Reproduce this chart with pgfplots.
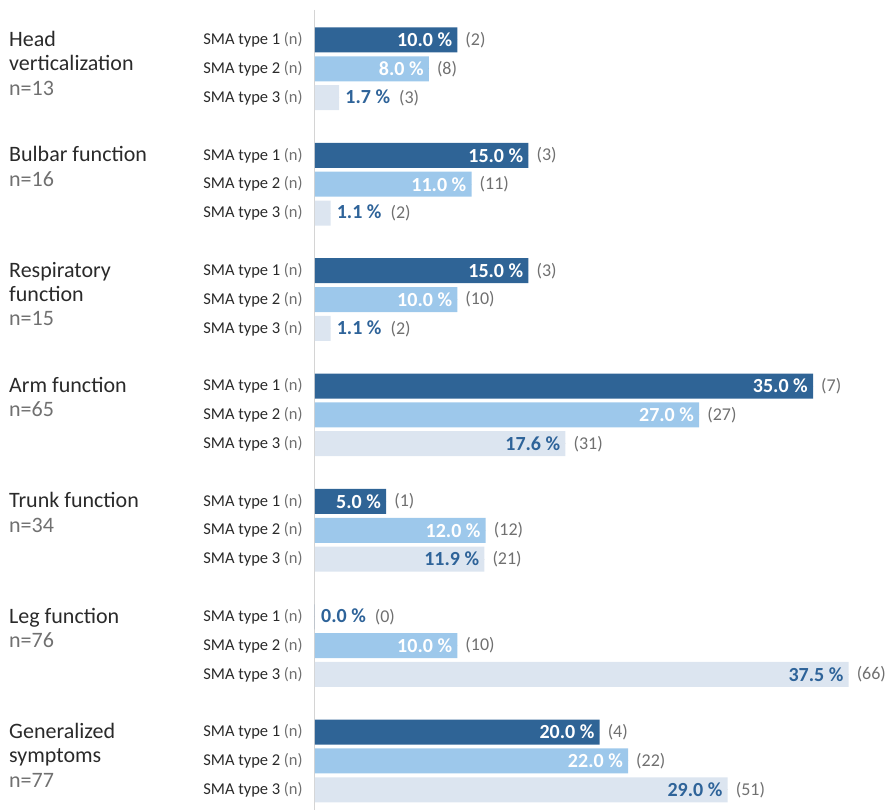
\documentclass[border=0pt]{standalone}
\usepackage{fontspec}
\setmainfont{Carlito}
\usepackage{pgfplots}
\pgfplotsset{compat=1.18}
\usepackage{pgfplotstable}
\definecolor{dblue}{HTML}{2F6496}
\definecolor{lblue}{HTML}{9DC8EB}
\definecolor{pblue}{HTML}{DCE5F0}
\definecolor{tblue}{HTML}{2E6399}
\definecolor{cgray}{HTML}{707070}
\definecolor{txt}{HTML}{2A2A2A}
\definecolor{axgray}{HTML}{D4D4D4}

\pgfplotstableread{
x y v n
10 0 10.0 2
15 4 15.0 3
15 8 15.0 3
35 12 35.0 7
5 16 5.0 1
0 20 0.0 0
20 24 20.0 4
}\tone
\pgfplotstableread{
x y v n
8 1 8.0 8
11 5 11.0 11
10 9 10.0 10
27 13 27.0 27
12 17 12.0 12
10 21 10.0 10
22 25 22.0 22
}\ttwo
\pgfplotstableread{
x y v n
1.7 2 1.7 3
1.1 6 1.1 2
1.1 10 1.1 2
17.6 14 17.6 31
11.9 18 11.9 21
37.5 22 37.5 66
29.0 26 29.0 51
}\tthree
% inside-label subsets
\pgfplotstableread{
x y v n
10 0 10.0 2
15 4 15.0 3
15 8 15.0 3
35 12 35.0 7
5 16 5.0 1
20 24 20.0 4
}\toneIn
\pgfplotstableread{
x y v n
17.6 14 17.6 31
11.9 18 11.9 21
37.5 22 37.5 66
29.0 26 29.0 51
}\tthreeIn
% outside-label rows
\pgfplotstableread{
x y v n
0 20 0.0 0
1.7 2 1.7 3
1.1 6 1.1 2
1.1 10 1.1 2
}\tOut

\newcommand{\valfont}{\fontsize{20}{22}\selectfont\bfseries}
\newcommand{\cntfont}{\fontsize{18}{20}\selectfont}
\newcommand{\grp}[3]{%
  \node[anchor=base west, inner sep=0pt, text=txt, font=\fontsize{22}{24.3}\selectfont]
    at ([xshift=-306pt, yshift=-6.5pt]axis cs:0,#1)
    {\begin{tabular}[t]{@{}l@{}}#2\\\textcolor{cgray}{n=#3}\end{tabular}};}

\begin{document}
\begin{tikzpicture}
\useasboundingbox (-315pt,0pt) rectangle (572pt,810pt);
\begin{axis}[
  at={(0pt,0pt)}, anchor=south west,
  scale only axis, width=572pt, height=800pt,
  xmin=0, xmax=40.2, ymin=-1.04, ymax=26.7, y dir=reverse,
  axis x line=none, axis y line=left,
  y axis line style={axgray, line width=1pt, -},
  ytick={0,1,2,4,5,6,8,9,10,12,13,14,16,17,18,20,21,22,24,25,26},
  ytick style={draw=none},
  yticklabel={\pgfmathparse{int(mod(\ticknum,3)+1)}SMA type \pgfmathresult\ \textcolor{cgray}{(n)}},
  yticklabel style={inner sep=0pt, xshift=-10pt, anchor=east, font=\fontsize{16.5}{18}\selectfont, text=txt},
  clip=false,
]
\addplot[xbar, bar shift=0pt, bar width=25pt, fill=dblue, draw=none] table[x=x,y=y]{\tone};
\addplot[xbar, bar shift=0pt, bar width=25pt, fill=lblue, draw=none] table[x=x,y=y]{\ttwo};
\addplot[xbar, bar shift=0pt, bar width=25pt, fill=pblue, draw=none] table[x=x,y=y]{\tthree};

% inside value labels
\addplot[only marks, mark=*, mark size=0pt, mark options={draw=none,fill=none},
  point meta=explicit symbolic, nodes near coords={\pgfplotspointmeta\ \%},
  nodes near coords style={anchor=east, xshift=-5pt, inner sep=0pt, font=\valfont, text=white}]
  table[x=x,y=y,meta=v]{\toneIn};
\addplot[only marks, mark=*, mark size=0pt, mark options={draw=none,fill=none},
  point meta=explicit symbolic, nodes near coords={\pgfplotspointmeta\ \%},
  nodes near coords style={anchor=east, xshift=-5pt, inner sep=0pt, font=\valfont, text=white}]
  table[x=x,y=y,meta=v]{\ttwo};
\addplot[only marks, mark=*, mark size=0pt, mark options={draw=none,fill=none},
  point meta=explicit symbolic, nodes near coords={\pgfplotspointmeta\ \%},
  nodes near coords style={anchor=east, xshift=-5pt, inner sep=0pt, font=\valfont, text=tblue}]
  table[x=x,y=y,meta=v]{\tthreeIn};

% counts for inside-labelled bars
\addplot[only marks, mark=*, mark size=0pt, mark options={draw=none,fill=none},
  point meta=explicit symbolic, nodes near coords={(\pgfplotspointmeta)},
  nodes near coords style={anchor=west, xshift=8pt, inner sep=0pt, font=\cntfont, text=cgray}]
  table[x=x,y=y,meta=n]{\toneIn};
\addplot[only marks, mark=*, mark size=0pt, mark options={draw=none,fill=none},
  point meta=explicit symbolic, nodes near coords={(\pgfplotspointmeta)},
  nodes near coords style={anchor=west, xshift=8pt, inner sep=0pt, font=\cntfont, text=cgray}]
  table[x=x,y=y,meta=n]{\ttwo};
\addplot[only marks, mark=*, mark size=0pt, mark options={draw=none,fill=none},
  point meta=explicit symbolic, nodes near coords={(\pgfplotspointmeta)},
  nodes near coords style={anchor=west, xshift=8pt, inner sep=0pt, font=\cntfont, text=cgray}]
  table[x=x,y=y,meta=n]{\tthreeIn};

% outside labels: value + count
\addplot[only marks, mark=*, mark size=0pt, mark options={draw=none,fill=none},
  point meta=explicit symbolic,
  visualization depends on={\thisrow{n} \as \cnt},
  nodes near coords={{\valfont\pgfplotspointmeta\ \%}\hspace{9pt}{\cntfont\textcolor{cgray}{(\pgfmathprintnumber[assume math mode=true]{\cnt})}}},
  nodes near coords style={anchor=west, xshift=6pt, inner sep=0pt, text=tblue}]
  table[x=x,y=y,meta=v]{\tOut};

% group labels
\grp{0}{Head\\verticalization}{13}
\grp{4}{Bulbar function}{16}
\grp{8}{Respiratory\\function}{15}
\grp{12}{Arm function}{65}
\grp{16}{Trunk function}{34}
\grp{20}{Leg function}{76}
\grp{24}{Generalized\\symptoms}{77}
\end{axis}
\end{tikzpicture}
\end{document}
